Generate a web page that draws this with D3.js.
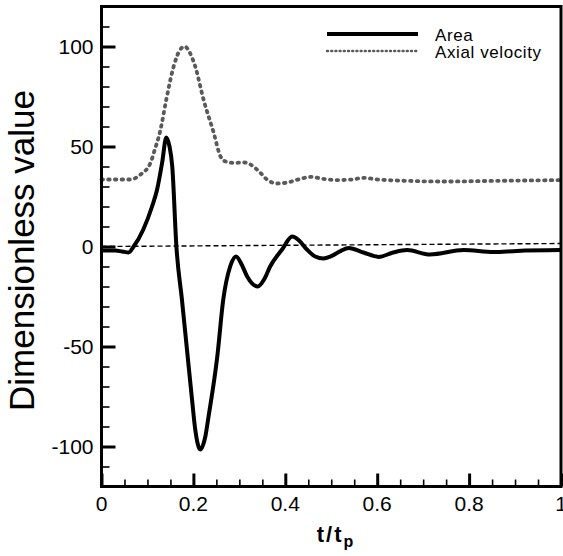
<!DOCTYPE html>
<html>
<head>
<meta charset="utf-8">
<script src="https://cdn.jsdelivr.net/npm/d3@7"></script>
<style>
  body { margin: 0; background: #fff; }
  svg text { font-family: "Liberation Sans", Arial, sans-serif; }
</style>
</head>
<body>
<svg id="chart" width="563" height="556"></svg>
<script>
/// data ///
// Area (solid black)
const areaT = [0, 0.03, 0.045, 0.059, 0.07, 0.091, 0.11, 0.121, 0.132, 0.141, 0.148, 0.154, 0.163, 0.175, 0.186, 0.197, 0.204, 0.215, 0.226, 0.233, 0.252, 0.265, 0.28, 0.293, 0.305, 0.317, 0.34, 0.355, 0.367, 0.393, 0.415, 0.43, 0.447, 0.465, 0.483, 0.5, 0.52, 0.538, 0.57, 0.603, 0.635, 0.665, 0.715, 0.788, 0.853, 0.904, 1.0];
const areaV = [-2, -2, -2.5, -3, 0, 8.5, 20, 28.5, 42, 54.5, 50, 40, 0, -26.5, -51.5, -76.5, -91.5, -101.5, -95, -85, -55, -26.5, -10, -5, -9, -15, -20, -16, -10, -1.5, 5, 3, -1.5, -5, -6, -4.8, -2.3, -0.7, -3, -5.2, -3, -1.8, -4, -1.8, -2.8, -2.2, -1.8];
// Axial velocity (grey dotted)
const velT = [0, 0.04, 0.063, 0.085, 0.107, 0.114, 0.128, 0.141, 0.157, 0.17, 0.181, 0.192, 0.204, 0.222, 0.244, 0.259, 0.27, 0.288, 0.31, 0.324, 0.346, 0.36, 0.382, 0.404, 0.433, 0.454, 0.483, 0.512, 0.545, 0.57, 0.6, 0.643, 0.75, 0.85, 1.0];
const velV = [33.5, 33.5, 33.5, 36, 42, 47, 58, 73.5, 90, 98, 100, 97, 90, 73.5, 57, 45, 42.5, 41.8, 42, 41, 36.8, 33.5, 31.5, 32, 33.8, 34.8, 33.8, 33.2, 33.5, 34.3, 33.5, 33, 32.5, 32.8, 33.2];
// thin dashed reference line
const refT = [0, 1];
const refV = [0, 1.5];

const seriesNames = ["Area", "Axial velocity"];
const xMajor = [0, 0.2, 0.4, 0.6, 0.8, 1];
const yMajor = [-100, -50, 0, 50, 100];

/// constants ///
const margin = {left: 101.5, right: 2, top: 6.5, bottom: 69.5};
const width = 563, height = 556;
const velColour = "#5a5a5a";

const svg = d3.select("#chart");

/// scales ///
const x = d3.scaleLinear().domain([0, 1]).range([margin.left, width - margin.right]);
const y = d3.scaleLinear().domain([-120, 120]).range([height - margin.bottom, margin.top]);

const line = d3.line()
  .x(d => x(d[0]))
  .y(d => y(d[1]))
  .curve(d3.curveMonotoneX);

/// lines ///
svg.append("path")
  .datum(refT.map((t, i) => [t, refV[i]]))
  .attr("d", d3.line().x(d => x(d[0])).y(d => y(d[1])))
  .attr("fill", "none")
  .attr("stroke", "black")
  .attr("stroke-width", 1.4)
  .attr("stroke-dasharray", "5 3");

svg.append("path")
  .datum(velT.map((t, i) => [t, velV[i]]))
  .attr("d", line)
  .attr("fill", "none")
  .attr("stroke", velColour)
  .attr("stroke-width", 3.8)
  .attr("stroke-linecap", "round")
  .attr("stroke-dasharray", "1.5 5.2");

svg.append("path")
  .datum(areaT.map((t, i) => [t, areaV[i]]))
  .attr("d", line)
  .attr("fill", "none")
  .attr("stroke", "black")
  .attr("stroke-width", 4)
  .attr("stroke-linejoin", "round");

/// axes ///
// y axis: inward ticks, major every 50, minor every 10
const yAxis = g => g
  .attr("transform", `translate(${margin.left},0)`)
  .call(d3.axisRight(y).tickValues(d3.range(-120, 121, 10)).tickSize(8).tickFormat(""))
  .call(g => g.select(".domain").remove())
  .call(g => g.selectAll(".tick line").attr("stroke-width", 1.6))
  .call(g => g.selectAll(".tick").filter(d => d % 50 === 0).select("line")
    .attr("x2", 14).attr("stroke-width", 3));
svg.append("g").call(yAxis);

svg.append("g")
  .selectAll("text")
  .data(yMajor)
  .join("text")
  .attr("x", margin.left - 8)
  .attr("y", d => y(d))
  .attr("dy", "0.35em")
  .attr("text-anchor", "end")
  .attr("font-size", "21px")
  .text(d => d);

// x axis: inward ticks, major every 0.2, minor every 0.05
const xAxis = g => g
  .attr("transform", `translate(0,${height - margin.bottom})`)
  .call(d3.axisTop(x).tickValues(d3.range(0, 21).map(i => i * 0.05)).tickSize(7).tickFormat(""))
  .call(g => g.select(".domain").remove())
  .call(g => g.selectAll(".tick line").attr("stroke-width", 1.6))
  .call(g => g.selectAll(".tick").filter((d, i) => i % 4 === 0).select("line")
    .attr("y2", -13).attr("stroke-width", 3));
svg.append("g").call(xAxis);

svg.append("g")
  .selectAll("text")
  .data(xMajor)
  .join("text")
  .attr("x", d => x(d))
  .attr("y", height - margin.bottom + 24)
  .attr("text-anchor", "middle")
  .attr("font-size", "21px")
  .text(d => d);

// frame
svg.append("rect")
  .attr("x", margin.left)
  .attr("y", margin.top)
  .attr("width", width - margin.right - margin.left)
  .attr("height", height - margin.bottom - margin.top)
  .attr("fill", "none")
  .attr("stroke", "black")
  .attr("stroke-width", 3);

/// axis titles ///
svg.append("text")
  .attr("transform", `translate(34, ${(y(120) + y(-120)) / 2 + 4}) rotate(-90)`)
  .attr("text-anchor", "middle")
  .attr("font-size", "35px")
  .text("Dimensionless value");

const xt = svg.append("text")
  .attr("x", 336)
  .attr("y", 542)
  .attr("text-anchor", "middle")
  .attr("font-size", "22px")
  .attr("font-weight", "bold")
  .attr("letter-spacing", "2px");
xt.append("tspan").text("t/t");
xt.append("tspan").attr("font-size", "16px").attr("dy", "5").text("p");

/// legend ///
const legend = svg.append("g");
legend.append("line")
  .attr("x1", 327).attr("x2", 418).attr("y1", 34).attr("y2", 34)
  .attr("stroke", "black").attr("stroke-width", 4);
legend.append("line")
  .attr("x1", 327).attr("x2", 418).attr("y1", 51).attr("y2", 51)
  .attr("stroke", velColour).attr("stroke-width", 2.4)
  .attr("stroke-linecap", "round").attr("stroke-dasharray", "1 3.2");
legend.selectAll("text")
  .data(seriesNames)
  .join("text")
  .attr("x", 435)
  .attr("y", (d, i) => 41 + i * 17)
  .attr("font-size", "17px")
  .attr("letter-spacing", "0.6px")
  .text(d => d);
</script>
</body>
</html>
